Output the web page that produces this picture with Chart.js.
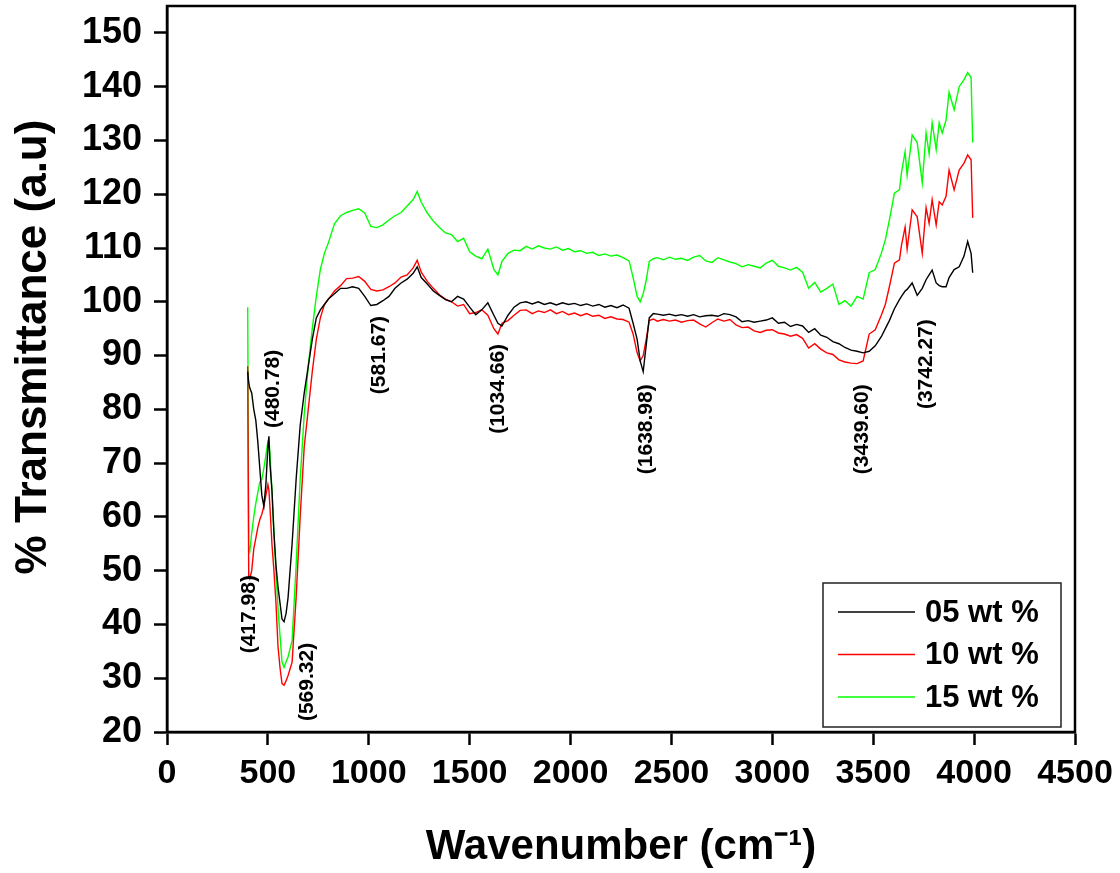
<!DOCTYPE html>
<html>
<head>
<meta charset="utf-8">
<title>FTIR transmittance</title>
<script src="https://cdn.jsdelivr.net/npm/chart.js@4.4.1/dist/chart.umd.min.js"></script>
<style>
  body { margin: 0; background: #fff; }
  canvas { display: block; }
</style>
</head>
<body>
<canvas id="ftirChart" width="1120" height="873"></canvas>
<script>
// wavenumber grid (cm-1), shared by the three spectra
const wavenumbers = [
  400, 405, 410, 420, 430, 440, 450, 460, 470, 480,
  490, 500, 505, 510, 520, 530, 540, 550, 560, 570,
  580, 590, 600, 620, 640, 660, 680, 700, 720, 740,
  760, 780, 800, 830, 860, 890, 920, 950, 980, 1010,
  1040, 1070, 1100, 1130, 1160, 1190, 1220, 1240, 1260, 1290,
  1320, 1350, 1380, 1410, 1440, 1470, 1500, 1530, 1560, 1590,
  1620, 1640, 1660, 1690, 1720, 1750, 1780, 1810, 1840, 1870,
  1900, 1930, 1960, 1990, 2020, 2050, 2080, 2110, 2140, 2170,
  2200, 2230, 2260, 2290, 2310, 2330, 2345, 2360, 2375, 2390,
  2410, 2430, 2460, 2490, 2520, 2550, 2580, 2610, 2640, 2670,
  2700, 2730, 2760, 2790, 2820, 2850, 2880, 2910, 2940, 2970,
  3000, 3030, 3060, 3090, 3120, 3150, 3180, 3210, 3240, 3270,
  3300, 3330, 3360, 3390, 3420, 3450, 3480, 3510,
  3540, 3560, 3580, 3605, 3630, 3640, 3658, 3668, 3693, 3718,
  3743, 3762, 3777, 3792, 3812, 3827, 3842, 3861, 3876, 3901,
  3926, 3950, 3968, 3985, 3993
];

// % transmittance, 05 wt %
const trans05 = [
  87, 85, 84, 83, 80, 78, 74, 69, 64, 62,
  66, 73, 75, 70, 65, 57, 51, 47, 44, 41,
  40.5, 42, 45, 55, 67, 77, 83, 88, 93, 97,
  98.5, 99.5, 100.5, 101.5, 102.5, 102.5, 102.8, 102.5, 101, 99.3,
  99.5, 100.2, 101, 102.5, 103.5, 104.2, 105.3, 106.5, 104.5, 103.3,
  102, 101.2, 100.4, 100, 101, 100.5, 99, 97.6, 98.5, 99.8,
  97.5, 96, 95.5, 97.5, 99, 99.8, 100, 99.6, 100, 99.5,
  99.8, 99.4, 99.8, 99.5, 99.7, 99.3, 99.6, 99.2, 99.5, 99,
  99.3, 98.9, 99.4, 98.8, 96, 93, 89, 87, 92, 97,
  97.8, 97.7, 97.5, 97.7, 97.4, 97.6, 97.3, 97.6, 97.2, 97.4,
  97.5, 97.3, 97.8, 97.6, 97.2, 96.3, 96.5, 96.2, 96.4, 96.6,
  97, 96, 96.2, 95.4, 95.8, 95.5, 94.3, 95, 93.8, 93.4,
  92.6, 92.2, 91.5, 91, 90.8, 90.5, 90.8, 91.8,
  93.5, 95, 96.5, 98.7, 100.4, 101, 102, 102.3, 103.5, 101.2,
  102.5, 104.1, 105, 105.9, 103.5, 103, 102.8, 102.8, 104.5, 106,
  106.5, 108.5, 111.2, 109, 105.4
];

// % transmittance, 10 wt %
const trans10 = [
  88, 49, 48.5, 50, 54, 56, 58, 59.5, 60.5, 62,
  64, 66, 65, 62, 55, 50, 44, 36, 32, 29,
  28.7, 29.5, 30.5, 33, 45, 60, 73, 80, 87, 93,
  97, 99.5, 100.5, 102, 103, 104.3, 104.4, 104.7, 103.8, 102.3,
  102, 102.2, 102.8, 103.5, 104.6, 105, 106.3, 107.7, 105.5, 103.8,
  102.5, 101.3, 100.5, 100, 99.2, 99.5, 97.8, 98, 98.5, 97.5,
  95, 94, 96, 96.5, 97.5, 98.4, 98.5, 97.8, 98.3, 98,
  98.5, 97.8, 98.2, 97.6, 97.9, 97.4, 97.8, 97.3, 97.5, 96.9,
  97.2, 96.8, 96.7, 96.2, 94, 90.5, 89, 90, 93, 96.5,
  96.8, 96.4, 96.7, 96.4, 96.6, 96.2, 96.5, 96.6, 95.9, 95.3,
  96.1, 96.8, 96.4, 96.7, 95.7, 95.2, 95.3, 94.6, 94.3, 94.7,
  94.8, 94.2, 94, 93.6, 93.9, 93.2, 91.4, 92.2, 91.2, 90.5,
  90.2, 89.2, 88.8, 88.6, 88.5, 89, 94, 94.8,
  97.5, 99.5, 102.8, 107.2, 107.8, 110.5, 113.9, 109.8, 117.1, 115.8,
  109, 117.5, 114.6, 119, 114.3, 118.6, 118, 119.6, 124.5, 120.8,
  124.5, 125.8, 127.3, 126.4, 115.6
];

// % transmittance, 15 wt %
const trans15 = [
  99, 54, 53.5, 57, 60, 62.5, 64.5, 66.5, 67, 69,
  71.5, 74, 74.5, 72, 65, 57, 50, 43, 38, 33,
  32, 33, 34, 37, 51, 67, 79, 88, 95, 101,
  106, 109, 111, 114.5, 116, 116.6, 117, 117.3, 116.5, 114,
  113.8, 114.3, 115.2, 116, 116.6, 117.8, 119, 120.5, 118.5, 116.5,
  115, 113.8, 112.8, 112.5, 111.2, 111.8, 109.3, 108.5, 108, 109.8,
  106, 105, 107.5, 109, 109.6, 109.5, 110.3, 109.8, 110.4, 110,
  109.8, 110.2, 109.6, 109.9, 109.3, 109.5, 109, 109.2, 108.6, 108.9,
  108.5, 108.7, 108.2, 107.6, 104.5, 101, 100, 101.5, 104, 107.5,
  108, 108.2, 107.8, 108.3, 107.9, 108.1, 107.7, 108.3, 108.6, 107.6,
  107.3, 108.2, 107.8, 107.4, 107.1, 106.5, 106.9, 106.6, 106.3, 107.2,
  107.7, 106.6, 106.3, 105.9, 106.4, 105.5, 102.5, 103.6, 101.8, 102.5,
  103.3, 99.5, 100.2, 99.2, 101, 100.5, 105.4, 106,
  109, 111.5, 115.2, 120.2, 120.8, 124, 127.9, 123.5, 131, 129.6,
  122.1, 131.4, 127.5, 133.3, 128.3, 133.3, 131.4, 133.8, 139, 135.7,
  140, 141.3, 142.6, 141.7, 129.6
];

const seriesLabels = ['05 wt %', '10 wt %', '15 wt %'];
const seriesColors = ['#000000', '#ff0000', '#00ff00'];

const xTicks = [0, 500, 1000, 1500, 2000, 2500, 3000, 3500, 4000, 4500];
const yTicks = [20, 30, 40, 50, 60, 70, 80, 90, 100, 110, 120, 130, 140, 150];

// peak labels written on the plot (text, wavenumber, transmittance at text centre)
const peakLabels = ['(417.98)', '(480.78)', '(569.32)', '(581.67)', '(1034.66)', '(1638.98)', '(3439.60)', '(3742.27)'];
const peakX = [406, 525, 693, 1050, 1639, 2376, 3446, 3762];
const peakY = [41.9, 83.8, 29.3, 90.1, 83.8, 76.3, 76.3, 88.4];

const FONT = '"Liberation Sans", Arial, Helvetica, sans-serif';

const datasets = [trans05, trans10, trans15].map((vals, i) => ({
    label: seriesLabels[i],
    data: wavenumbers.map((w, j) => ({ x: w, y: vals[j] })),
    borderColor: seriesColors[i],
    backgroundColor: seriesColors[i],
    borderWidth: 1.4,
    pointRadius: 0,
    tension: 0
}));

// frame, y title, legend box and peak labels
const overlayPlugin = {
    id: 'overlay',
    afterDraw(chart) {
        const ctx = chart.ctx;
        const area = chart.chartArea;
        const xs = chart.scales.x;
        const ys = chart.scales.y;
        ctx.save();

        ctx.strokeStyle = '#000';
        ctx.lineWidth = 2.5;
        ctx.strokeRect(area.left, area.top, area.right - area.left, area.bottom - area.top);

        // peak labels, rotated
        ctx.fillStyle = '#000';
        ctx.font = 'bold 21px ' + FONT;
        ctx.textAlign = 'center';
        ctx.textBaseline = 'middle';
        peakLabels.forEach((txt, i) => {
            ctx.save();
            ctx.translate(xs.getPixelForValue(peakX[i]), ys.getPixelForValue(peakY[i]));
            ctx.rotate(-Math.PI / 2);
            ctx.fillText(txt, 0, 0);
            ctx.restore();
        });

        // y axis title
        ctx.save();
        ctx.font = 'bold 44px ' + FONT;
        ctx.translate(34, 347);
        ctx.rotate(-Math.PI / 2);
        ctx.fillText('% Transmittance (a.u)', 0, 0);
        ctx.restore();

        // legend box
        const boxW = 238, boxH = 144;
        const boxX = area.right - 14 - boxW;
        const boxY = area.bottom - 5 - boxH;
        ctx.fillStyle = '#fff';
        ctx.fillRect(boxX, boxY, boxW, boxH);
        ctx.strokeStyle = '#222';
        ctx.lineWidth = 1.5;
        ctx.strokeRect(boxX, boxY, boxW, boxH);
        ctx.font = 'bold 31px ' + FONT;
        ctx.textAlign = 'left';
        seriesLabels.forEach((lab, i) => {
            const yy = boxY + 29 + i * 42.5;
            ctx.strokeStyle = seriesColors[i];
            ctx.lineWidth = 1.5;
            ctx.beginPath();
            ctx.moveTo(boxX + 15, yy);
            ctx.lineTo(boxX + 92, yy);
            ctx.stroke();
            ctx.fillStyle = '#000';
            ctx.fillText(lab, boxX + 102, yy + 1);
        });

        ctx.restore();
    }
};

new Chart(document.getElementById('ftirChart'), {
    type: 'line',
    data: { datasets: datasets },
    options: {
        responsive: false,
        animation: false,
        events: [],
        layout: { padding: { top: 6, right: 45, left: 0, bottom: 0 } },
        plugins: {
            legend: { display: false },
            tooltip: { enabled: false }
        },
        scales: {
            x: {
                type: 'linear',
                min: 0,
                max: 4500,
                afterBuildTicks: (axis) => { axis.ticks = xTicks.map(v => ({ value: v })); },
                afterFit: (axis) => {
                    axis.height = 141;
                    axis.paddingLeft = 0;
                    axis.paddingRight = 0;
                },
                border: { display: true, color: '#000', width: 2.5 },
                grid: { drawOnChartArea: false, drawTicks: true, tickLength: 13, tickWidth: 2.5, tickColor: '#000' },
                ticks: {
                    color: '#000',
                    padding: 8,
                    maxRotation: 0,
                    callback: (v) => String(v),
                    font: { family: FONT, size: 34, weight: 'bold' }
                },
                title: {
                    display: true,
                    text: 'Wavenumber (cm\u207B\u00B9)',
                    color: '#000',
                    padding: { top: 0, bottom: 0 },
                    font: { family: FONT, size: 42, weight: 'bold' }
                }
            },
            y: {
                type: 'linear',
                min: 20,
                max: 155,
                afterBuildTicks: (axis) => { axis.ticks = yTicks.map(v => ({ value: v })); },
                afterFit: (axis) => {
                    axis.width = 167;
                    axis.paddingTop = 0;
                    axis.paddingBottom = 0;
                },
                border: { display: true, color: '#000', width: 2.5 },
                grid: { drawOnChartArea: false, drawTicks: true, tickLength: 13, tickWidth: 2.5, tickColor: '#000' },
                ticks: {
                    color: '#000',
                    padding: 12,
                    callback: (v) => String(v),
                    font: { family: FONT, size: 36, weight: 'bold' }
                }
            }
        }
    },
    plugins: [overlayPlugin]
});
</script>
</body>
</html>
